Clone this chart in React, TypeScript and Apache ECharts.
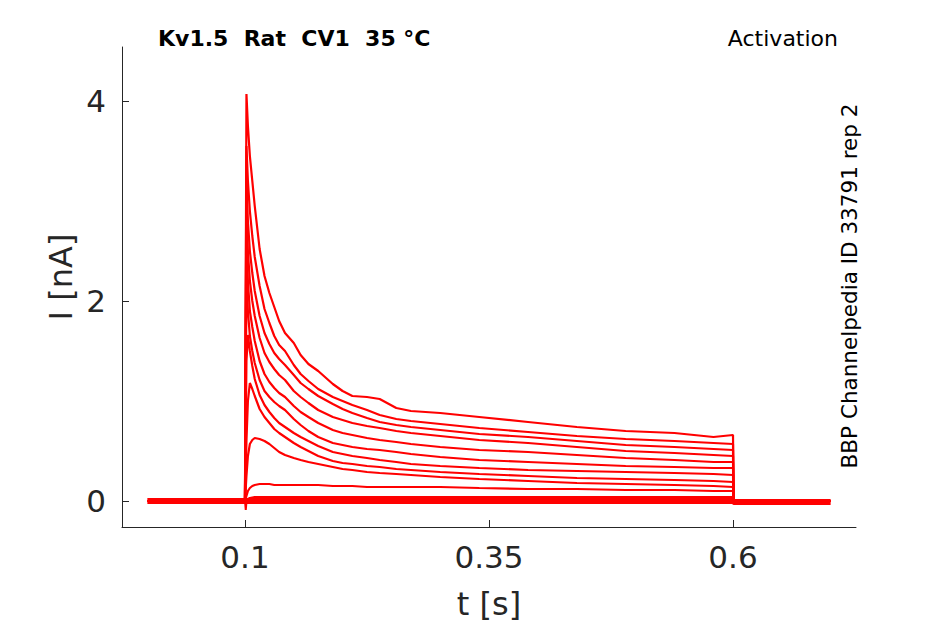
import React, { useEffect, useRef } from "react";
import * as echarts from "echarts";

// ---- tick labels ----
const xTicks = [0.1, 0.35, 0.6];
const yTicks = [0, 2, 4];

// ---- time points of the read-off samples during the pulse (s) ----
const pulseTimes = [
  0.1, 0.1015, 0.103, 0.105, 0.1075, 0.11, 0.115, 0.12, 0.125, 0.13, 0.135, 0.141,
  0.15, 0.157, 0.165, 0.175, 0.19, 0.2, 0.21, 0.225, 0.238, 0.255, 0.27, 0.3,
  0.34, 0.39, 0.44, 0.49, 0.54, 0.58, 0.6,
];

// ---- currents (nA) of each trace at pulseTimes ----
const trace1 = [0, 4.07, 3.75, 3.45, 3.2, 2.95, 2.52, 2.25, 2.08, 1.94, 1.8, 1.68, 1.58, 1.46, 1.37, 1.3, 1.17, 1.1, 1.05, 1.04, 1.02, 0.93, 0.9, 0.88, 0.84, 0.79, 0.74, 0.7, 0.68, 0.64, 0.66];
const trace2 = [0, 3.55, 3.2, 2.9, 2.65, 2.44, 2.15, 1.92, 1.78, 1.65, 1.56, 1.5, 1.36, 1.27, 1.2, 1.12, 1.04, 1.0, 0.96, 0.91, 0.86, 0.82, 0.8, 0.77, 0.73, 0.69, 0.65, 0.62, 0.6, 0.58, 0.57];
const trace3 = [0, 3.2, 2.8, 2.5, 2.28, 2.1, 1.85, 1.68, 1.57, 1.48, 1.42, 1.36, 1.26, 1.18, 1.12, 1.05, 0.97, 0.92, 0.88, 0.83, 0.79, 0.76, 0.74, 0.71, 0.67, 0.64, 0.6, 0.56, 0.54, 0.52, 0.51];
const trace4 = [0, 2.9, 2.5, 2.2, 2.0, 1.85, 1.63, 1.48, 1.39, 1.32, 1.26, 1.21, 1.1, 1.04, 0.98, 0.91, 0.84, 0.81, 0.78, 0.75, 0.73, 0.7, 0.68, 0.65, 0.61, 0.58, 0.54, 0.5, 0.48, 0.46, 0.45];
const trace5 = [0, 2.6, 2.2, 1.9, 1.74, 1.6, 1.4, 1.27, 1.19, 1.13, 1.08, 1.04, 0.95, 0.89, 0.84, 0.78, 0.71, 0.68, 0.66, 0.63, 0.61, 0.59, 0.57, 0.54, 0.51, 0.49, 0.46, 0.43, 0.41, 0.39, 0.39];
const trace6 = [0, 2.25, 1.9, 1.65, 1.5, 1.38, 1.21, 1.1, 1.04, 0.99, 0.95, 0.91, 0.82, 0.76, 0.7, 0.64, 0.58, 0.56, 0.54, 0.52, 0.51, 0.49, 0.47, 0.44, 0.41, 0.39, 0.37, 0.35, 0.34, 0.33, 0.33];
const trace7 = [0, 1.4, 1.66, 1.5, 1.35, 1.22, 1.06, 0.96, 0.89, 0.83, 0.78, 0.74, 0.68, 0.64, 0.6, 0.55, 0.49, 0.47, 0.45, 0.43, 0.41, 0.39, 0.37, 0.35, 0.33, 0.31, 0.3, 0.29, 0.28, 0.27, 0.26];
const trace8 = [0, 0.6, 1.0, 1.18, 1.12, 1.05, 0.92, 0.84, 0.78, 0.72, 0.68, 0.64, 0.58, 0.54, 0.5, 0.45, 0.4, 0.38, 0.37, 0.35, 0.34, 0.32, 0.31, 0.29, 0.27, 0.25, 0.23, 0.22, 0.21, 0.2, 0.19];
const trace9 = [0, 0.25, 0.45, 0.57, 0.61, 0.63, 0.62, 0.6, 0.57, 0.53, 0.49, 0.46, 0.43, 0.41, 0.39, 0.37, 0.34, 0.32, 0.31, 0.29, 0.28, 0.27, 0.26, 0.24, 0.22, 0.2, 0.18, 0.17, 0.16, 0.15, 0.14];
const trace10 = [0, 0.05, 0.1, 0.13, 0.15, 0.16, 0.17, 0.17, 0.17, 0.16, 0.16, 0.16, 0.16, 0.16, 0.16, 0.16, 0.15, 0.15, 0.15, 0.14, 0.14, 0.14, 0.14, 0.14, 0.13, 0.12, 0.12, 0.11, 0.11, 0.1, 0.1];
const trace11 = [0, 0.01, 0.02, 0.03, 0.035, 0.04, 0.04, 0.04, 0.04, 0.04, 0.04, 0.04, 0.04, 0.04, 0.04, 0.04, 0.04, 0.04, 0.04, 0.04, 0.04, 0.04, 0.04, 0.04, 0.04, 0.04, 0.04, 0.04, 0.04, 0.04, 0.04];

// ---- baseline (holding) traces ----
const baselineTimes = [0, 0.1, 0.1008, 0.1016, 0.3, 0.6, 0.6005, 0.7];
const baselineValues = [0, 0, -0.09, 0, 0, 0, 0, 0];
const baselineBand = [0, 0, 0, 0, 0, 0, -0.01, -0.01];

const recordStart = 0;
const pulseEnd = 0.6005;
const recordEnd = 0.7;

const pulseTraces = [trace1, trace2, trace3, trace4, trace5, trace6, trace7, trace8, trace9, trace10, trace11];

const FONT = "DejaVu Sans";
const AXIS_COLOR = "#262626";

export default function App() {
  const ref = useRef<HTMLDivElement>(null);

  useEffect(() => {
    if (!ref.current) return;
    const chart = echarts.init(ref.current, null, { renderer: "svg" });

    const traceSeries = pulseTraces.map((vals) => ({
      type: "line",
      showSymbol: false,
      symbol: "none",
      data: [
        [recordStart, 0],
        ...pulseTimes.map((t, i) => [t, vals[i]]),
        [pulseEnd, 0],
        [recordEnd, 0],
      ],
      lineStyle: { color: "#ff0000", width: 2.2 },
      itemStyle: { color: "#ff0000" },
      z: 3,
    }));

    const baselineSeries = [
      {
        type: "line",
        showSymbol: false,
        symbol: "none",
        data: baselineTimes.map((t, i) => [t, baselineBand[i]]),
        lineStyle: { color: "#ff0000", width: 6 },
        z: 2,
      },
      {
        type: "line",
        showSymbol: false,
        symbol: "none",
        data: baselineTimes.map((t, i) => [t, baselineValues[i]]),
        lineStyle: { color: "#ff0000", width: 2 },
        z: 2,
      },
    ];

    chart.setOption({
      animation: false,
      backgroundColor: "#ffffff",
      grid: { left: 122, top: 47, width: 734, height: 480, containLabel: false },
      xAxis: {
        type: "value",
        min: -0.026,
        max: 0.726,
        splitLine: { show: false },
        axisLine: { show: true, onZero: false, lineStyle: { color: AXIS_COLOR, width: 1 } },
        axisTick: { show: true, inside: true, length: 7, customValues: xTicks, lineStyle: { color: AXIS_COLOR, width: 1 } },
        axisLabel: {
          customValues: xTicks,
          color: AXIS_COLOR,
          fontSize: 31,
          fontFamily: FONT,
          margin: 14,
          formatter: (v: number) => String(v),
        },
      },
      yAxis: {
        type: "value",
        min: -0.26,
        max: 4.54,
        splitLine: { show: false },
        axisLine: { show: true, onZero: false, lineStyle: { color: AXIS_COLOR, width: 1 } },
        axisTick: { show: true, inside: true, length: 7, customValues: yTicks, lineStyle: { color: AXIS_COLOR, width: 1 } },
        axisLabel: {
          customValues: yTicks,
          color: AXIS_COLOR,
          fontSize: 31,
          fontFamily: FONT,
          margin: 16,
          formatter: (v: number) => String(v),
        },
      },
      graphic: [
        {
          type: "text",
          left: 158,
          top: 27,
          style: {
            text: "Kv1.5  Rat  CV1  35 °C",
            fontFamily: FONT,
            fontWeight: "bold",
            fontSize: 22,
            fill: "#000000",
          },
        },
        {
          type: "text",
          x: 838,
          y: 38,
          style: {
            text: "Activation",
            fontFamily: FONT,
            fontSize: 22,
            fill: "#000000",
            textAlign: "right",
            textVerticalAlign: "middle",
          },
        },
        {
          type: "text",
          x: 849,
          y: 286,
          rotation: Math.PI / 2,
          style: {
            text: "BBP Channelpedia ID 33791 rep 2",
            fontFamily: FONT,
            fontSize: 21.5,
            fill: "#000000",
            textAlign: "center",
            textVerticalAlign: "middle",
          },
        },
        {
          type: "text",
          x: 489,
          y: 604,
          style: {
            text: "t [s]",
            fontFamily: FONT,
            fontSize: 32,
            fill: AXIS_COLOR,
            textAlign: "center",
            textVerticalAlign: "middle",
          },
        },
        {
          type: "text",
          x: 61,
          y: 277,
          rotation: Math.PI / 2,
          style: {
            text: "I [nA]",
            fontFamily: FONT,
            fontSize: 32,
            fill: AXIS_COLOR,
            textAlign: "center",
            textVerticalAlign: "middle",
          },
        },
      ],
      series: [...baselineSeries, ...traceSeries],
    });

    return () => chart.dispose();
  }, []);

  return (
    <div
      ref={ref}
      style={{ position: "fixed", left: 0, top: 0, width: 945, height: 624, background: "#ffffff" }}
    />
  );
}
